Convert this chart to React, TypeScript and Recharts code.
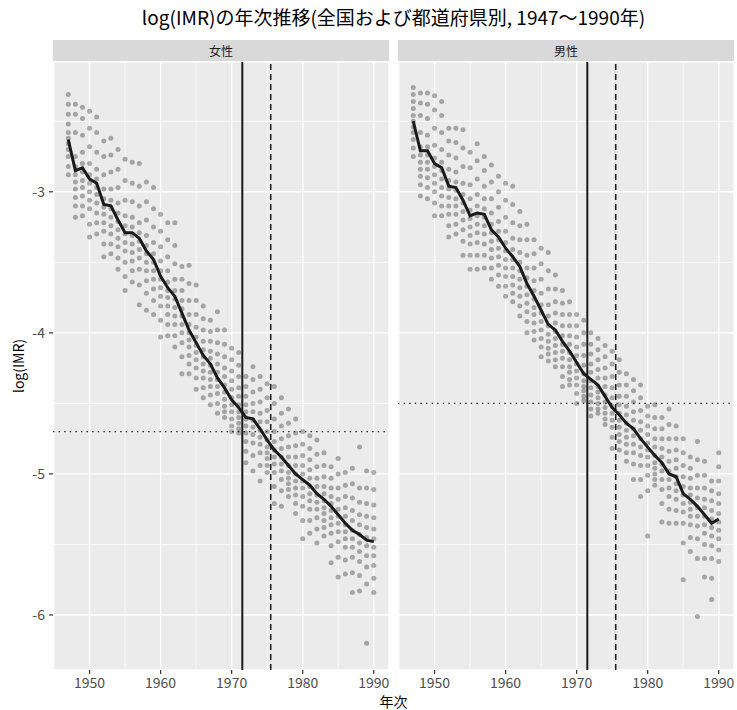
import React from "react";
import {
  ComposedChart,
  Scatter,
  XAxis,
  YAxis,
  CartesianGrid,
  ReferenceLine,
} from "recharts";

const years = [
  1947, 1948, 1949, 1950, 1951, 1952, 1953, 1954, 1955, 1956, 1957, 1958, 1959, 1960, 1961,
  1962, 1963, 1964, 1965, 1966, 1967, 1968, 1969, 1970, 1971, 1972, 1973, 1974, 1975, 1976,
  1977, 1978, 1979, 1980, 1981, 1982, 1983, 1984, 1985, 1986, 1987, 1988, 1989, 1990,
];

// national log(IMR)
const femaleNational = [
  -2.63, -2.85, -2.83, -2.91, -2.94, -3.09, -3.1, -3.2, -3.29, -3.29, -3.33, -3.42, -3.48, -3.6,
  -3.68, -3.74, -3.86, -3.98, -4.07, -4.16, -4.22, -4.32, -4.39, -4.475, -4.53, -4.6, -4.61,
  -4.68, -4.76, -4.83, -4.88, -4.94, -5.0, -5.04, -5.08, -5.14, -5.18, -5.23, -5.29, -5.35,
  -5.4, -5.43, -5.47, -5.48,
];
const maleNational = [
  -2.5, -2.71, -2.71, -2.8, -2.83, -2.96, -2.97, -3.06, -3.17, -3.15, -3.16, -3.27, -3.32, -3.4,
  -3.46, -3.53, -3.65, -3.74, -3.84, -3.94, -3.98, -4.06, -4.13, -4.21, -4.29, -4.33, -4.37,
  -4.45, -4.53, -4.58, -4.64, -4.68, -4.75, -4.81, -4.87, -4.92, -5.0, -5.02, -5.14, -5.18,
  -5.23, -5.29, -5.35, -5.32,
];

// prefecture values per year
const femalePrefs = [
  [-2.31, -2.38, -2.45, -2.52, -2.58, -2.62, -2.66, -2.7, -2.75, -2.82, -2.88],
  [-2.38, -2.45, -2.58, -2.75, -2.82, -2.88, -2.93, -2.98, -3.04, -3.1, -3.18],
  [-2.4, -2.48, -2.6, -2.72, -2.8, -2.86, -2.92, -2.97, -3.03, -3.1, -3.17],
  [-2.43, -2.55, -2.68, -2.8, -2.88, -2.94, -3.0, -3.06, -3.12, -3.23, -3.32],
  [-2.47, -2.58, -2.72, -2.84, -2.91, -2.97, -3.02, -3.08, -3.15, -3.22, -3.3],
  [-2.64, -2.75, -2.88, -2.98, -3.05, -3.11, -3.16, -3.22, -3.28, -3.37, -3.46],
  [-2.62, -2.74, -2.86, -2.98, -3.06, -3.12, -3.18, -3.24, -3.3, -3.37, -3.44],
  [-2.7, -2.84, -2.97, -3.08, -3.15, -3.21, -3.27, -3.33, -3.39, -3.47, -3.55],
  [-2.77, -2.92, -3.06, -3.17, -3.24, -3.3, -3.36, -3.42, -3.5, -3.6, -3.7],
  [-2.79, -2.94, -3.07, -3.18, -3.25, -3.31, -3.37, -3.43, -3.49, -3.56, -3.64],
  [-2.8, -2.96, -3.1, -3.22, -3.29, -3.35, -3.41, -3.47, -3.55, -3.66, -3.8],
  [-2.93, -3.07, -3.2, -3.31, -3.38, -3.44, -3.5, -3.56, -3.63, -3.72, -3.84],
  [-2.97, -3.12, -3.25, -3.36, -3.44, -3.5, -3.56, -3.62, -3.69, -3.77, -3.87],
  [-3.16, -3.28, -3.39, -3.49, -3.56, -3.62, -3.68, -3.74, -3.81, -3.91, -4.03],
  [-3.22, -3.34, -3.46, -3.56, -3.64, -3.7, -3.75, -3.81, -3.87, -3.94, -4.02],
  [-3.22, -3.38, -3.51, -3.62, -3.7, -3.76, -3.82, -3.88, -3.94, -4.02, -4.1],
  [-3.53, -3.62, -3.7, -3.77, -3.83, -3.88, -3.94, -4.0, -4.07, -4.17, -4.29],
  [-3.52, -3.65, -3.77, -3.87, -3.94, -4.0, -4.05, -4.1, -4.16, -4.22, -4.29],
  [-3.66, -3.77, -3.87, -3.96, -4.03, -4.09, -4.14, -4.19, -4.25, -4.32, -4.4],
  [-3.81, -3.9, -3.98, -4.06, -4.12, -4.17, -4.22, -4.27, -4.32, -4.39, -4.46],
  [-3.91, -3.99, -4.06, -4.13, -4.18, -4.23, -4.28, -4.33, -4.38, -4.44, -4.51],
  [-3.85, -3.98, -4.07, -4.15, -4.22, -4.28, -4.33, -4.38, -4.43, -4.5, -4.57],
  [-3.98, -4.08, -4.17, -4.25, -4.31, -4.37, -4.42, -4.47, -4.52, -4.56, -4.6],
  [-4.11, -4.19, -4.27, -4.34, -4.4, -4.46, -4.51, -4.56, -4.61, -4.66, -4.7],
  [-4.14, -4.23, -4.31, -4.39, -4.45, -4.51, -4.56, -4.6, -4.64, -4.68, -4.71],
  [-4.31, -4.38, -4.45, -4.51, -4.56, -4.61, -4.66, -4.71, -4.77, -4.84, -4.92],
  [-4.24, -4.33, -4.42, -4.5, -4.56, -4.62, -4.67, -4.72, -4.78, -4.87, -4.98],
  [-4.31, -4.4, -4.49, -4.57, -4.63, -4.69, -4.74, -4.79, -4.85, -4.94, -5.05],
  [-4.36, -4.46, -4.55, -4.63, -4.7, -4.76, -4.81, -4.85, -4.89, -4.94, -4.99],
  [-4.38, -4.5, -4.61, -4.7, -4.77, -4.83, -4.88, -4.93, -4.99, -5.09, -5.21],
  [-4.46, -4.57, -4.66, -4.75, -4.82, -4.88, -4.93, -4.98, -5.04, -5.12, -5.23],
  [-4.54, -4.64, -4.73, -4.81, -4.88, -4.94, -4.99, -5.03, -5.07, -5.11, -5.16],
  [-4.61, -4.71, -4.8, -4.88, -4.94, -5.0, -5.05, -5.1, -5.15, -5.21, -5.28],
  [-4.7, -4.79, -4.87, -4.94, -5.0, -5.05, -5.1, -5.16, -5.23, -5.33, -5.46],
  [-4.73, -4.82, -4.9, -4.97, -5.03, -5.09, -5.14, -5.19, -5.25, -5.33, -5.42],
  [-4.76, -4.86, -4.95, -5.03, -5.09, -5.15, -5.2, -5.25, -5.31, -5.39, -5.49],
  [-4.85, -4.94, -5.02, -5.09, -5.14, -5.19, -5.24, -5.28, -5.33, -5.38, -5.44],
  [-4.95, -5.03, -5.1, -5.16, -5.21, -5.26, -5.31, -5.36, -5.42, -5.51, -5.63],
  [-4.89, -5.0, -5.1, -5.18, -5.25, -5.3, -5.35, -5.41, -5.48, -5.59, -5.73],
  [-4.99, -5.08, -5.16, -5.24, -5.3, -5.36, -5.41, -5.46, -5.52, -5.61, -5.71],
  [-4.96, -5.07, -5.17, -5.26, -5.33, -5.4, -5.46, -5.52, -5.59, -5.7, -5.84],
  [-4.81, -5.1, -5.2, -5.29, -5.36, -5.43, -5.49, -5.55, -5.62, -5.72, -5.83],
  [-4.98, -5.1, -5.21, -5.3, -5.38, -5.45, -5.51, -5.58, -5.66, -5.78, -6.2],
  [-4.99, -5.11, -5.22, -5.31, -5.39, -5.46, -5.52, -5.58, -5.65, -5.74, -5.84],
];

const malePrefs = [
  [-2.26, -2.31, -2.36, -2.41, -2.46, -2.5, -2.54, -2.58, -2.63, -2.69, -2.75],
  [-2.3, -2.37, -2.46, -2.58, -2.68, -2.74, -2.79, -2.84, -2.89, -2.95, -3.03],
  [-2.3, -2.38, -2.48, -2.6, -2.68, -2.74, -2.79, -2.84, -2.9, -2.97, -3.05],
  [-2.32, -2.42, -2.55, -2.67, -2.76, -2.82, -2.88, -2.94, -3.0, -3.08, -3.17],
  [-2.36, -2.46, -2.58, -2.7, -2.79, -2.85, -2.91, -2.97, -3.03, -3.1, -3.17],
  [-2.55, -2.64, -2.74, -2.84, -2.92, -2.98, -3.04, -3.1, -3.16, -3.24, -3.32],
  [-2.55, -2.65, -2.76, -2.86, -2.93, -2.99, -3.05, -3.1, -3.16, -3.23, -3.3],
  [-2.56, -2.69, -2.82, -2.94, -3.02, -3.08, -3.14, -3.2, -3.27, -3.35, -3.45],
  [-2.72, -2.83, -2.95, -3.05, -3.13, -3.19, -3.25, -3.31, -3.37, -3.45, -3.55],
  [-2.66, -2.78, -2.91, -3.02, -3.1, -3.17, -3.23, -3.29, -3.36, -3.45, -3.55],
  [-2.75, -2.85, -2.96, -3.05, -3.12, -3.18, -3.24, -3.3, -3.37, -3.45, -3.54],
  [-2.81, -2.93, -3.05, -3.15, -3.23, -3.29, -3.35, -3.41, -3.47, -3.54, -3.62],
  [-2.89, -3.0, -3.11, -3.21, -3.28, -3.34, -3.4, -3.46, -3.52, -3.59, -3.67],
  [-2.94, -3.06, -3.18, -3.28, -3.36, -3.42, -3.48, -3.54, -3.6, -3.67, -3.74],
  [-2.96, -3.09, -3.22, -3.33, -3.41, -3.48, -3.54, -3.6, -3.66, -3.72, -3.78],
  [-3.14, -3.24, -3.34, -3.43, -3.5, -3.56, -3.62, -3.68, -3.74, -3.81, -3.88],
  [-3.23, -3.34, -3.45, -3.54, -3.61, -3.67, -3.73, -3.79, -3.85, -3.92, -4.0],
  [-3.34, -3.44, -3.54, -3.63, -3.7, -3.76, -3.82, -3.87, -3.93, -3.99, -4.05],
  [-3.4, -3.51, -3.62, -3.72, -3.8, -3.86, -3.92, -3.98, -4.04, -4.1, -4.17],
  [-3.43, -3.56, -3.69, -3.8, -3.88, -3.95, -4.01, -4.06, -4.11, -4.15, -4.2],
  [-3.59, -3.69, -3.78, -3.86, -3.93, -3.99, -4.04, -4.09, -4.14, -4.19, -4.24],
  [-3.7, -3.79, -3.87, -3.95, -4.02, -4.08, -4.13, -4.18, -4.24, -4.31, -4.38],
  [-3.78, -3.87, -3.95, -4.02, -4.08, -4.14, -4.19, -4.24, -4.28, -4.33, -4.37],
  [-3.87, -3.95, -4.03, -4.1, -4.16, -4.22, -4.27, -4.32, -4.37, -4.43, -4.5],
  [-3.91, -4.0, -4.08, -4.16, -4.23, -4.29, -4.34, -4.38, -4.41, -4.45, -4.48],
  [-4.0, -4.08, -4.15, -4.22, -4.28, -4.34, -4.39, -4.44, -4.49, -4.54, -4.59],
  [-4.04, -4.12, -4.19, -4.26, -4.32, -4.38, -4.42, -4.46, -4.5, -4.54, -4.57],
  [-4.09, -4.17, -4.25, -4.32, -4.38, -4.44, -4.49, -4.53, -4.57, -4.61, -4.65],
  [-4.13, -4.22, -4.31, -4.39, -4.46, -4.52, -4.57, -4.62, -4.67, -4.74, -4.82],
  [-4.19, -4.28, -4.37, -4.45, -4.51, -4.57, -4.62, -4.67, -4.72, -4.77, -4.83],
  [-4.29, -4.37, -4.45, -4.52, -4.58, -4.64, -4.69, -4.74, -4.79, -4.85, -4.91],
  [-4.33, -4.41, -4.49, -4.56, -4.62, -4.68, -4.73, -4.79, -4.85, -4.93, -5.04],
  [-4.37, -4.46, -4.55, -4.63, -4.69, -4.75, -4.81, -4.87, -4.94, -5.04, -5.16],
  [-4.52, -4.59, -4.66, -4.72, -4.78, -4.83, -4.88, -4.94, -5.01, -5.12, -5.44],
  [-4.51, -4.6, -4.68, -4.75, -4.81, -4.87, -4.92, -4.96, -5.0, -5.04, -5.08],
  [-4.6, -4.68, -4.75, -4.82, -4.88, -4.93, -4.98, -5.04, -5.11, -5.21, -5.34],
  [-4.54, -4.65, -4.75, -4.84, -4.91, -4.98, -5.04, -5.1, -5.16, -5.25, -5.35],
  [-4.66, -4.75, -4.83, -4.9, -4.96, -5.02, -5.07, -5.12, -5.18, -5.26, -5.35],
  [-4.75, -4.85, -4.94, -5.02, -5.09, -5.15, -5.21, -5.27, -5.35, -5.49, -5.75],
  [-4.88, -4.96, -5.03, -5.1, -5.15, -5.2, -5.25, -5.3, -5.36, -5.45, -5.55],
  [-4.77, -4.9, -5.01, -5.1, -5.17, -5.24, -5.3, -5.37, -5.46, -5.6, -6.01],
  [-4.91, -5.01, -5.1, -5.18, -5.24, -5.3, -5.36, -5.42, -5.5, -5.6, -5.73],
  [-5.05, -5.12, -5.19, -5.26, -5.32, -5.38, -5.44, -5.51, -5.6, -5.74, -5.89],
  [-4.85, -4.95, -5.05, -5.14, -5.21, -5.28, -5.34, -5.4, -5.46, -5.54, -5.62],
];

const xTicks = [1950, 1960, 1970, 1980, 1990];
const xMinor = [1945, 1955, 1965, 1975, 1985];
const yTicks = [-6, -5, -4, -3];
const yMinor = [-5.5, -4.5, -3.5, -2.5];
const solidYear = 1971.5;
const dashedYear = 1975.5;

const FONT = '"Noto Sans CJK JP", "Noto Sans", sans-serif';
const xDomain = [1944.85, 1992.15];
const yDomain = [-6.39, -2.08];

const Dot = (p: any) => (
  <circle cx={p.cx} cy={p.cy} r={2.5} fill="#262626" fillOpacity={0.36} />
);
const NoDot = () => <g />;

function Panel({
  national,
  prefs,
  hline,
  showY,
  left,
  width,
}: {
  national: number[];
  prefs: number[][];
  hline: number;
  showY: boolean;
  left: number;
  width: number;
}) {
  const points = years.flatMap((yr, i) => prefs[i].map((v) => ({ x: yr, y: v })));
  const line = years.map((yr, i) => ({ x: yr, y: national[i] }));
  return (
    <div style={{ position: "absolute", left, top: 0 }}>
      <ComposedChart
        width={width}
        height={710}
        margin={{ top: 62, right: 3, bottom: 0, left: showY ? 28 : 0 }}
      >
        <CartesianGrid fill="#EBEBEB" stroke="#FFFFFF" strokeWidth={1.4} />
        {xMinor.map((v) => (
          <ReferenceLine key={`vx${v}`} x={v} stroke="#FFFFFF" strokeWidth={0.7} />
        ))}
        {yMinor.map((v) => (
          <ReferenceLine key={`hy${v}`} y={v} stroke="#FFFFFF" strokeWidth={0.7} />
        ))}
        <XAxis
          type="number"
          dataKey="x"
          domain={xDomain}
          ticks={xTicks}
          allowDataOverflow
          axisLine={false}
          tickSize={4}
          tickMargin={4}
          tickLine={{ stroke: "#333333", strokeWidth: 1.2 }}
          tick={{ fill: "#4D4D4D", fontSize: 14, fontFamily: FONT }}
          height={40}
        />
        <YAxis
          type="number"
          dataKey="y"
          domain={yDomain}
          ticks={yTicks}
          allowDataOverflow
          hide={!showY}
          axisLine={false}
          tickSize={4}
          tickMargin={4}
          tickLine={{ stroke: "#333333", strokeWidth: 1.2 }}
          tick={{ fill: "#4D4D4D", fontSize: 14, fontFamily: FONT }}
          width={25}
        />
        <Scatter data={points} shape={Dot} isAnimationActive={false} />
        <ReferenceLine x={solidYear} stroke="#1A1A1A" strokeWidth={2} />
        <ReferenceLine x={dashedYear} stroke="#1A1A1A" strokeWidth={1.5} strokeDasharray="6 4" />
        <ReferenceLine y={hline} stroke="#1A1A1A" strokeWidth={1.4} strokeDasharray="1.4 4.2" />
        <Scatter
          data={line}
          shape={NoDot}
          fill="#1A1A1A"
          line={{ stroke: "#1A1A1A", strokeWidth: 3 }}
          lineJointType="linear"
          isAnimationActive={false}
        />
      </ComposedChart>
    </div>
  );
}

const stripStyle: React.CSSProperties = {
  position: "absolute",
  top: 40,
  height: 21,
  background: "#D9D9D9",
  color: "#1A1A1A",
  fontSize: 12,
  lineHeight: "21px",
  textAlign: "center",
  fontFamily: FONT,
};

export default function App() {
  return (
    <div
      style={{
        position: "absolute",
        left: 0,
        top: 0,
        width: 737,
        height: 710,
        background: "#FFFFFF",
        fontFamily: FONT,
        overflow: "hidden",
      }}
    >
      <div
        style={{
          position: "absolute",
          left: 53,
          width: 681,
          top: 4,
          textAlign: "center",
          fontSize: 19,
          color: "#000000",
          lineHeight: "26px",
        }}
      >
        log(IMR)の年次推移(全国および都道府県別, 1947〜1990年)
      </div>
      <Panel national={femaleNational} prefs={femalePrefs} hline={-4.7} showY left={0} width={392} />
      <Panel national={maleNational} prefs={malePrefs} hline={-4.5} showY={false} left={398} width={339} />
      <div style={{ ...stripStyle, left: 53, width: 336 }}>女性</div>
      <div style={{ ...stripStyle, left: 398, width: 336 }}>男性</div>
      <div
        style={{
          position: "absolute",
          left: 53,
          width: 681,
          top: 692,
          textAlign: "center",
          fontSize: 14,
          color: "#000000",
          lineHeight: "18px",
        }}
      >
        年次
      </div>
      <div
        style={{
          position: "absolute",
          left: 18,
          top: 366,
          transform: "translate(-50%, -50%) rotate(-90deg)",
          fontSize: 14,
          color: "#000000",
          whiteSpace: "nowrap",
          lineHeight: "18px",
        }}
      >
        log(IMR)
      </div>
    </div>
  );
}
